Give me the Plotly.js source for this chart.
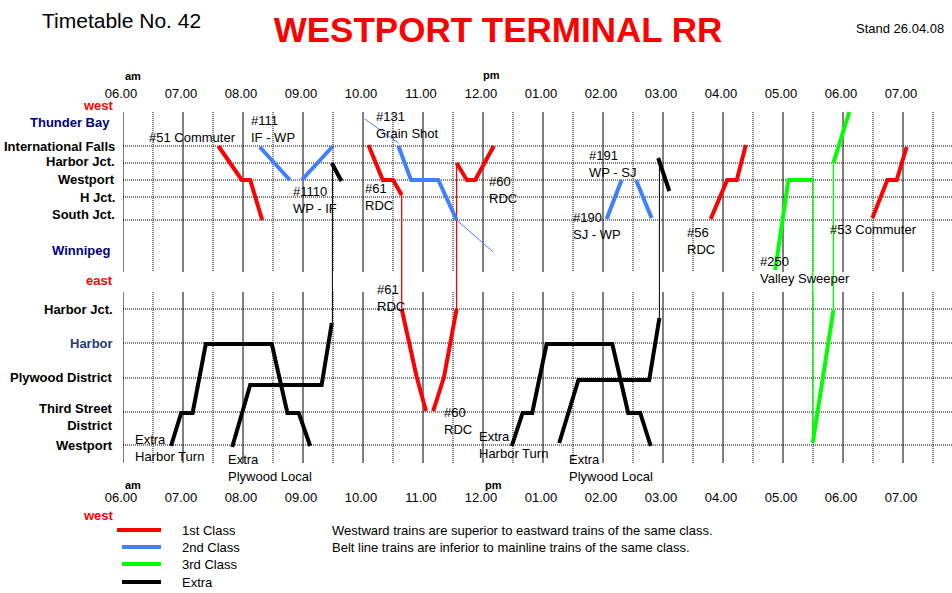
<!DOCTYPE html>
<html><head><meta charset="utf-8">
<script src="https://cdn.plot.ly/plotly-3.0.1.min.js"></script>
<style>html,body{margin:0;padding:0;background:#fff;} #chart{width:952px;height:593px;}</style>
</head><body><div id="chart"></div>
<script>
// ================= DATA =================
const hourTicks  = [6,7,8,9,10,11,12,13,14,15,16,17,18,19];
const hourLabels = ['06.00','07.00','08.00','09.00','10.00','11.00','12.00','01.00','02.00','03.00','04.00','05.00','06.00','07.00'];
const halfHours  = [6.5,7.5,8.5,9.5,10.5,11.5,12.5,13.5,14.5,15.5,16.5,17.5,18.5,19.5];

// main line (track position)
const mainStations   = ['International Falls','Harbor Jct.','Westport','H Jct.','South Jct.'];
const mainStationPos = [146,163,180,197,220];
const mainTermini    = ['Thunder Bay','Winnipeg'];
const mainTerminiPos = [123,250];
// belt line (track position)
const beltStations   = ['Harbor Jct.','Harbor','Plywood District','Third Street<br>District','Westport'];
const beltStationPos = [309,343,378,412,445];

// 1st class
const c51_t  = [7.59,7.98,8.12,8.32];          const c51_p  = [146,180,180,220];
const r61a_t = [10.09,10.33,10.50,10.645];     const r61a_p = [145,180,180,195];
const r61x_t = [10.645,10.645];                const r61x_p = [195,309];
const r61b_t = [10.645,10.895,11.05];          const r61b_p = [309,377,411];
const r60b_t = [11.17,11.35,11.56];            const r60b_p = [411,377,309];
const r60x_t = [11.56,11.56];                  const r60x_p = [309,163];
const r60a_t = [11.56,11.73,11.87,12.18];      const r60a_p = [163,180,180,146];
const r56_t  = [15.795,16.07,16.23,16.38];     const r56_p  = [219,180,180,145];
const c53_t  = [18.49,18.74,18.895,19.06];     const c53_p  = [218,180,180,147];
// 2nd class
const b111_t  = [8.28,8.78];                   const b111_p  = [147,180];
const b1110_t = [8.98,9.50];                   const b1110_p = [180,146];
const b131u_t = [10.03,10.59];                 const b131u_p = [119,143];
const b131_t  = [10.59,10.80,11.255,11.56];    const b131_p  = [146,180,180,220];
const b131d_t = [11.56,12.17];                 const b131d_p = [220,252];
const b190_t  = [14.06,14.31];                 const b190_p  = [219,180];
const b191_t  = [14.55,14.81];                 const b191_p  = [180,218];
// 3rd class
const g250a_t = [16.87,17.09,17.495];          const g250a_p = [270,180,180];
const g250x_t = [17.495,17.495];               const g250x_p = [180,443];
const g250b_t = [17.495,17.84];                const g250b_p = [443,310];
const g250y_t = [17.84,17.84];                 const g250y_p = [310,163];
const g250c_t = [17.84,18.105];                const g250c_p = [163,112];
// extras
const ht1_t  = [6.80,6.97,7.16,7.38,8.48,8.74,8.93,9.12];        const ht1_p  = [446,413,413,344,344,413,413,446];
const pl1_t  = [7.82,8.12,9.31,9.48];                            const pl1_p  = [447,385,385,323];
const pl1x_t = [9.49,9.49];                                      const pl1x_p = [323,163];
const pl1a_t = [9.48,9.64];                                      const pl1a_p = [163,181];
const ht2_t  = [12.48,12.66,12.82,13.06,14.155,14.42,14.62,14.795]; const ht2_p = [446,413,413,344,344,413,413,446];
const pl2_t  = [13.27,13.59,14.77,14.94];                        const pl2_p  = [443,380,380,318];
const pl2x_t = [14.94,14.94];                                    const pl2x_p = [318,158];
const pl2a_t = [14.92,15.105];                                   const pl2a_p = [158,191];

const trainLabels = ['#51 Commuter','#111<br>IF - WP','#1110<br>WP - IF','#61<br>RDC','#131<br>Grain Shot',
  '#60<br>RDC','#191<br>WP - SJ','#190<br>SJ - WP','#56<br>RDC','#250<br>Valley Sweeper','#53 Commuter',
  '#61<br>RDC','#60<br>RDC','Extra<br>Harbor Turn','Extra<br>Plywood Local','Extra<br>Harbor Turn','Extra<br>Plywood Local'];

const classNames = ['1st Class','2nd Class','3rd Class','Extra'];
const notes = ['Westward trains are superior to eastward trains of the same class.',
               'Belt line trains are inferior to mainline trains of the same class.'];

// ================= BUILD =================
const FONT = 'Liberation Sans, Arial, sans-serif';
const COL = {c1:'#ff0000', c2:'#4080ff', c3:'#00ff00', ex:'#000000'};
const L=123, T=100, W=829, H=380;
const px = x => (x-L)/W;
const py = y => (T+H-y)/H;

const segs = [
  [c51_t,c51_p,'c1',4],[r61a_t,r61a_p,'c1',4],[r61x_t,r61x_p,'c1',1.3],[r61b_t,r61b_p,'c1',4],
  [r60b_t,r60b_p,'c1',4],[r60x_t,r60x_p,'c1',1.3],[r60a_t,r60a_p,'c1',4],[r56_t,r56_p,'c1',4],[c53_t,c53_p,'c1',4],
  [b111_t,b111_p,'c2',4],[b1110_t,b1110_p,'c2',4],[b131u_t,b131u_p,'c2',1],[b131_t,b131_p,'c2',4],
  [b131d_t,b131d_p,'c2',1],[b190_t,b190_p,'c2',4],[b191_t,b191_p,'c2',4],
  [g250a_t,g250a_p,'c3',4],[g250x_t,g250x_p,'c3',1.3],[g250b_t,g250b_p,'c3',4],[g250y_t,g250y_p,'c3',1.3],[g250c_t,g250c_p,'c3',4],
  [ht1_t,ht1_p,'ex',4],[pl1_t,pl1_p,'ex',4],[pl1x_t,pl1x_p,'ex',1],[pl1a_t,pl1a_p,'ex',4],
  [ht2_t,ht2_p,'ex',4],[pl2_t,pl2_p,'ex',4],[pl2x_t,pl2x_p,'ex',1],[pl2a_t,pl2a_p,'ex',4]
];
const traces = segs.map(s => ({
  type:'scatter', mode:'lines', x:s[0], y:s[1], showlegend:false, hoverinfo:'skip',
  line:{color:COL[s[2]], width:s[3]}
}));
// invisible trace binding xaxis2
traces.push({type:'scatter', mode:'lines', x:[6,19.8], y:[0,0], xaxis:'x2', yaxis:'y', showlegend:false, hoverinfo:'skip', line:{width:0}, opacity:0});

const shapes = [];
const panels = [[112,272],[292,463]];
hourTicks.forEach(h => panels.forEach(p => shapes.push({type:'line', layer:'below', xref:'x', yref:'y', x0:h, x1:h, y0:p[0], y1:p[1], line:{color:'#000', width:1}})));
halfHours.forEach(h => panels.forEach(p => shapes.push({type:'line', layer:'below', xref:'x', yref:'y', x0:h, x1:h, y0:p[0], y1:p[1], line:{color:'#000', width:1, dash:'1px,1px'}})));
mainStationPos.concat(beltStationPos).forEach(y => shapes.push({type:'line', layer:'below', xref:'paper', yref:'y', x0:0, x1:1, y0:y, y1:y, line:{color:'#000', width:1, dash:'1px,1px'}}));

const ann = [];
function txt(x, y, text, opts) {
  ann.push(Object.assign({xref:'paper', yref:'paper', x:px(x), y:py(y), text:text, showarrow:false,
    xanchor:'left', yanchor:'middle', font:{family:FONT, size:13, color:'#000'}}, opts||{}));
}
// station labels
const mainLabelY = [146,161,179,197,214];
mainStations.forEach((s,i) => txt(117, mainLabelY[i], '<b>'+s+'</b>', {xanchor:'right'}));
mainTermini.forEach((s,i) => txt(112, mainTerminiPos[i], '<b>'+s+'</b>', {xanchor:'right', font:{family:FONT, size:13, color:'#000080'}}));
const beltLabelY = [309,343,377,417,445];
beltStations.forEach((s,i) => txt(115, beltLabelY[i], '<b>'+s+'</b>', {xanchor:'right', align:'right',
  font:{family:FONT, size:13, color: s==='Harbor' ? '#1f3b80' : '#000'}}));
// directions / am-pm
const red13 = {family:FONT, size:13, color:'#ff0000'};
txt(98, 105, '<b>west</b>', {xanchor:'center', font:red13});
txt(99, 280, '<b>east</b>', {xanchor:'center', font:red13});
txt(98, 515, '<b>west</b>', {xanchor:'center', font:red13});
const bold11 = {family:FONT, size:11, color:'#000'};
txt(133, 76, '<b>am</b>', {xanchor:'center', font:bold11});
txt(491, 75, '<b>pm</b>', {xanchor:'center', font:bold11});
txt(133, 485, '<b>am</b>', {xanchor:'center', font:bold11});
txt(493, 485, '<b>pm</b>', {xanchor:'center', font:bold11});
// train labels (time, track position anchors)
const labelAnchor = [[6.40,137],[8.10,128.5],[8.80,200],[10.0,196.5],[10.18,124.5],[12.067,189.5],[13.733,163.5],
  [13.467,225.5],[15.367,241],[16.583,269.5],[17.75,229],[10.20,298],[11.317,421],[6.167,448],[7.717,467.5],[11.895,445],[13.40,467.5]];
trainLabels.forEach((s,i) => ann.push({xref:'x', yref:'y', x:labelAnchor[i][0], y:labelAnchor[i][1], text:s, showarrow:false,
  xanchor:'left', yanchor:'middle', align:'left', font:{family:FONT, size:13, color:'#000'}}));
// header texts
ann.push({xref:'paper', yref:'paper', x:px(40), y:py(20), text:'Timetable No. 42', showarrow:false, xanchor:'left', yanchor:'middle', font:{family:FONT, size:21, color:'#000'}});
ann.push({xref:'paper', yref:'paper', x:px(946), y:py(29), text:'Stand 26.04.08', showarrow:false, xanchor:'right', yanchor:'middle', font:{family:FONT, size:13, color:'#000'}});
// legend
const legendCols = [COL.c1, COL.c2, COL.c3, COL.ex];
const legendY = [530,547,564,582];
classNames.forEach((c,i) => {
  shapes.push({type:'line', xref:'paper', yref:'paper', x0:px(i===0?117:122), x1:px(161), y0:py(legendY[i]), y1:py(legendY[i]), line:{color:legendCols[i], width:4}});
  txt(180, legendY[i], c);
});
notes.forEach((n,i) => txt(330, legendY[i], n));

const layout = {
  width:952, height:593,
  margin:{l:L, r:952-L-W, t:T, b:593-T-H, pad:0},
  paper_bgcolor:'#fff', plot_bgcolor:'#fff',
  title:{text:'<b>WESTPORT TERMINAL RR</b>', xref:'container', yref:'container', x:498/952, xanchor:'center', y:1-30/593, yanchor:'middle',
    font:{family:FONT, size:35, color:'#ff0000'}},
  xaxis:{range:[6, 6+W/60], tickvals:hourTicks, ticktext:hourLabels, showgrid:false, zeroline:false, showline:false, ticks:'',
    tickfont:{family:FONT, size:13, color:'#000'}, ticklabelstandoff:8, ticklabelshift:-2, fixedrange:true},
  xaxis2:{overlaying:'x', side:'top', range:[6, 6+W/60], tickvals:hourTicks, ticktext:hourLabels, showgrid:false, zeroline:false, showline:false, ticks:'',
    tickfont:{family:FONT, size:13, color:'#000'}, ticklabelstandoff:-2, ticklabelshift:-2, fixedrange:true},
  yaxis:{range:[T+H, T], visible:false, showgrid:false, zeroline:false, fixedrange:true},
  shapes:shapes, annotations:ann, showlegend:false
};
Plotly.newPlot('chart', traces, layout, {staticPlot:true, displayModeBar:false});
</script></body></html>
